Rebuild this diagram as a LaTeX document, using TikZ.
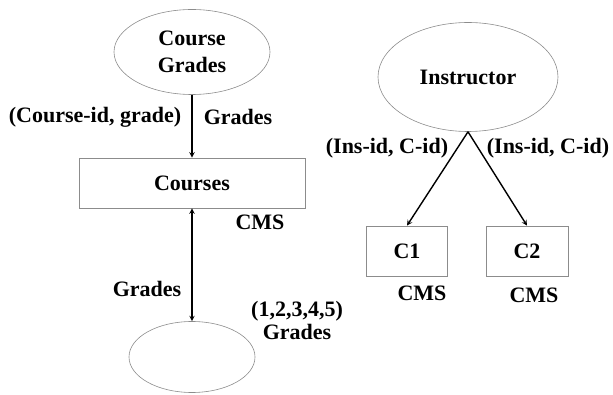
\documentclass[tikz,border=0pt]{standalone}
\usepackage{fontspec}
\setmainfont{Liberation Serif}
\usepackage{tikz}
\usetikzlibrary{shapes,arrows,positioning,calc}

\begin{document}
\begin{tikzpicture}[x=1pt,y=-1pt,
  lbl/.style={font=\fontsize{22}{27}\selectfont\bfseries, inner sep=0pt, align=center},
  entity/.style={ellipse, draw=gray!90, line width=0.6pt, lbl},
  store/.style={rectangle, draw=gray!90, line width=0.8pt, lbl},
  flow/.style={line width=1.4pt, -stealth}]

\useasboundingbox (0,0) rectangle (613,395);

% Left side: course grades
\node[entity, minimum width=156, minimum height=85] (cgrades) at (192,52) {Course\\Grades};
\node[store, minimum width=226, minimum height=50] (courses) at (192,183) {Courses};
\node[entity, minimum width=126, minimum height=71] (student) at (192,357) {};
\draw[flow] (cgrades) -- (courses);
\draw[line width=1.4pt, stealth-stealth] (courses) -- (student);
\node[lbl] (cidlbl) at (95,117) {(Course-id, grade)};
\node[lbl] (gradesA) at (238,117) {Grades};
\node[lbl] (cmsA) at (260,222) {CMS};
\node[lbl] (gradesB) at (147,289) {Grades};
\node[lbl] (scale) at (297,320) {(1,2,3,4,5)\\[-4pt]Grades};

% Right side: instructor
\node[entity, minimum width=180, minimum height=109] (instr) at (468,77) {Instructor};
\node[store, minimum width=81, minimum height=50] (cone) at (407,251) {C1};
\node[store, minimum width=82, minimum height=50] (ctwo) at (527,251) {C2};
\draw[flow] (instr.south) -- (cone.north);
\draw[flow] (instr.south) -- (ctwo.north);
\node[lbl] (insA) at (387,148) {(Ins-id, C-id)};
\node[lbl] (insB) at (548,148) {(Ins-id, C-id)};
\node[lbl] (cmsB) at (422,293) {CMS};
\node[lbl] (cmsC) at (534,295) {CMS};

\end{tikzpicture}
\end{document}
